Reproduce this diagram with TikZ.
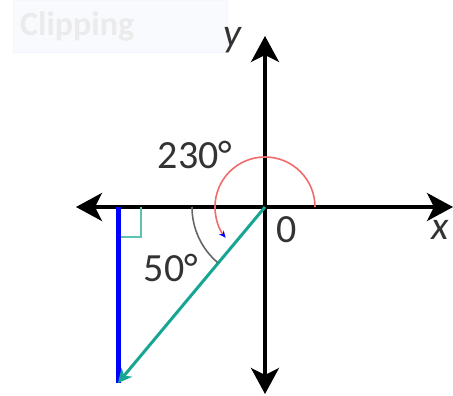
\documentclass[tikz,border=0pt]{standalone}
\usepackage{fontspec}
\setmainfont{Carlito}
\usetikzlibrary{arrows.meta}

\definecolor{vecteal}{HTML}{17A693}
\definecolor{arcred}{HTML}{F26B6B}
\definecolor{snipbox}{HTML}{F8FAFE}

\tikzset{
  axis/.style={line width=3.5pt,{Stealth[length=26pt,width=28pt,inset=7pt]}-{Stealth[length=26pt,width=28pt,inset=7pt]}},
  lbl/.style={font=\fontsize{40}{44}\selectfont,text=black!80,inner sep=0pt}
}

\begin{document}
\begin{tikzpicture}[x=1pt,y=-1pt]
  \useasboundingbox (0,0) rectangle (453,396);
  \node[fill=snipbox,draw=blue!4,minimum width=214pt,minimum height=52pt,anchor=north west,
        font=\fontsize{34}{38}\selectfont\bfseries,text=red!8!black!8,text width=200pt] (snip) at (13,0) {Clipping};

  \coordinate (O) at (265,207);
  \coordinate (xl) at (76,207);
  \coordinate (xr) at (453,207);
  \coordinate (yt) at (265,36);
  \coordinate (yb) at (265,394);
  \coordinate (Q) at (118,207);
  \coordinate (P) at (118,383);

  \draw[axis] (xl) -- (xr);
  \draw[axis] (yb) -- (yt);

  \node[lbl] (ylab) at (232,40) {\itshape y};
  \node[lbl] (xlab) at (440,230) {\itshape x};
  \node[lbl] (zero) at (287,230) {0};

  \draw[vecteal!70,line width=2pt] (118,237) -- (141,237) -- (141,207);
  \draw[blue,line width=5pt] (Q) -- (P);
  \draw[vecteal,line width=3pt,-{Stealth[length=14pt,width=14pt]}] (O) -- (P);

  \draw[black!60,line width=1.6pt] (192,207) arc[start angle=180,end angle=130,radius=73];
  \draw[arcred,line width=1.6pt,-{Stealth[blue,length=7pt,width=6pt]}] (315,207) arc[start angle=0,end angle=-218,radius=50];

  \node[lbl] (big) at (195,155) {230°};
  \node[lbl] (small) at (171,268) {50°};
\end{tikzpicture}
\end{document}
